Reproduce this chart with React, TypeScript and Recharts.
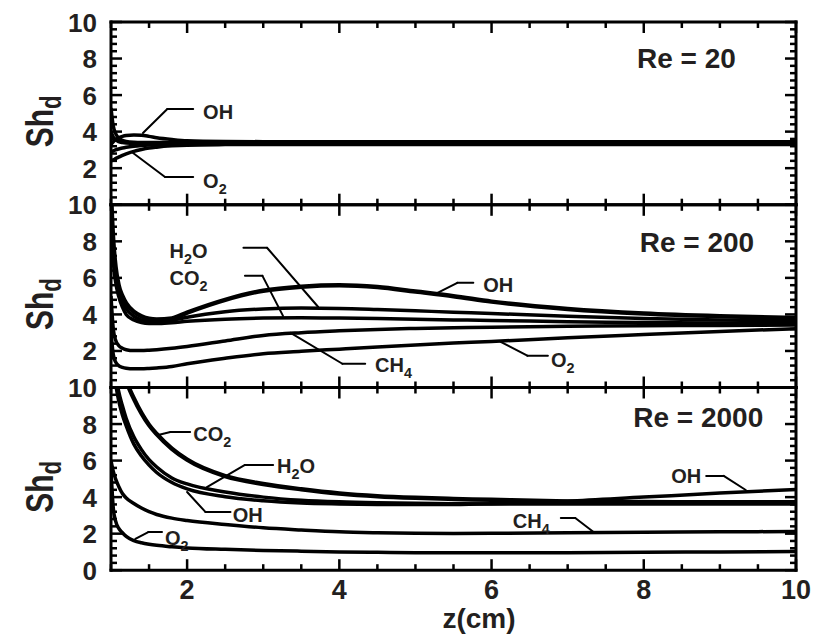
import React from 'react';
import { LineChart, Line, XAxis, YAxis, ReferenceLine, ReferenceDot } from 'recharts';

const FONT = '"Liberation Sans", Arial, Helvetica, sans-serif';
const INK = '#231f20';

// axial position (cm), shared by every panel
const zGrid = [1.0, 1.03, 1.06, 1.1, 1.15, 1.2, 1.3, 1.4, 1.5, 1.6, 1.8, 2.0, 2.5, 3, 3.5, 4, 4.5, 5, 5.5, 6, 7, 8, 9, 10];

// Re = 20
const oh20 = [3.3, 3.45, 3.56, 3.66, 3.74, 3.79, 3.82, 3.8, 3.74, 3.67, 3.57, 3.5, 3.46, 3.45, 3.45, 3.45, 3.45, 3.45, 3.45, 3.45, 3.45, 3.45, 3.45, 3.45];
const h2o20 = [5.3, 4.3, 3.9, 3.65, 3.52, 3.46, 3.42, 3.41, 3.41, 3.41, 3.41, 3.41, 3.41, 3.41, 3.41, 3.41, 3.41, 3.41, 3.41, 3.41, 3.41, 3.41, 3.41, 3.41];
const co2_20 = [4.0, 3.7, 3.55, 3.45, 3.4, 3.38, 3.37, 3.37, 3.37, 3.37, 3.37, 3.37, 3.37, 3.37, 3.37, 3.37, 3.37, 3.37, 3.37, 3.37, 3.37, 3.37, 3.37, 3.37];
const ch4_20 = [2.9, 2.95, 3.0, 3.05, 3.1, 3.14, 3.2, 3.24, 3.27, 3.29, 3.31, 3.32, 3.33, 3.33, 3.33, 3.33, 3.33, 3.33, 3.33, 3.33, 3.33, 3.33, 3.33, 3.33];
const o2_20 = [2.4, 2.45, 2.52, 2.6, 2.7, 2.78, 2.92, 3.02, 3.1, 3.15, 3.22, 3.26, 3.29, 3.3, 3.3, 3.3, 3.3, 3.3, 3.3, 3.3, 3.3, 3.3, 3.3, 3.3];

// Re = 200
const oh200 = [10.5, 8.0, 6.6, 5.6, 5.0, 4.6, 4.15, 3.9, 3.76, 3.72, 3.78, 4.1, 4.8, 5.3, 5.52, 5.6, 5.5, 5.25, 5.0, 4.7, 4.3, 4.05, 3.9, 3.8];
const h2o200 = [10.5, 7.5, 6.2, 5.3, 4.7, 4.3, 3.9, 3.7, 3.62, 3.6, 3.68, 3.85, 4.15, 4.3, 4.35, 4.33, 4.27, 4.2, 4.12, 4.05, 3.9, 3.78, 3.7, 3.65];
const co2_200 = [10.5, 7.0, 5.8, 5.0, 4.4, 4.0, 3.7, 3.55, 3.5, 3.5, 3.55, 3.62, 3.74, 3.8, 3.82, 3.8, 3.77, 3.74, 3.7, 3.67, 3.6, 3.56, 3.53, 3.5];
const ch4_200 = [5.0, 3.2, 2.6, 2.3, 2.15, 2.07, 2.02, 2.02, 2.04, 2.07, 2.15, 2.25, 2.55, 2.85, 3.0, 3.1, 3.18, 3.23, 3.27, 3.3, 3.35, 3.38, 3.4, 3.42];
const o2_200 = [3.0, 1.8, 1.4, 1.2, 1.1, 1.05, 1.02, 1.02, 1.04, 1.07, 1.15, 1.3, 1.6, 1.85, 1.98, 2.1, 2.22, 2.33, 2.43, 2.52, 2.72, 2.9, 3.07, 3.22];

// Re = 2000
const oh2000 = [12, 11, 10.2, 9.3, 8.5, 7.9, 6.9, 6.25, 5.75, 5.35, 4.8, 4.45, 4.02, 3.8, 3.68, 3.63, 3.6, 3.59, 3.6, 3.64, 3.78, 4.0, 4.22, 4.42];
const h2o2000 = [12, 11.5, 10.8, 9.8, 9.0, 8.3, 7.3, 6.6, 6.05, 5.65, 5.05, 4.72, 4.28, 4.0, 3.83, 3.74, 3.69, 3.66, 3.64, 3.63, 3.62, 3.62, 3.62, 3.62];
const co2_2000 = [12, 12, 12, 11.8, 11.2, 10.4, 9.4, 8.6, 7.95, 7.45, 6.65, 6.05, 5.15, 4.72, 4.43, 4.2, 4.05, 3.96, 3.9, 3.85, 3.76, 3.73, 3.72, 3.72];
const ch4_2000 = [6.0, 5.4, 5.0, 4.6, 4.2, 3.95, 3.65, 3.4, 3.2, 3.05, 2.85, 2.72, 2.5, 2.32, 2.2, 2.1, 2.05, 2.02, 2.01, 2.02, 2.05, 2.08, 2.1, 2.12];
const o2_2000 = [5.5, 3.4, 2.7, 2.3, 2.05, 1.85, 1.62, 1.5, 1.42, 1.36, 1.28, 1.22, 1.14, 1.08, 1.04, 1.0, 0.98, 0.96, 0.95, 0.95, 0.96, 0.98, 1.0, 1.03];

const xTicks = [1, 1.5, 2, 2.5, 3, 3.5, 4, 4.5, 5, 5.5, 6, 6.5, 7, 7.5, 8, 8.5, 9, 9.5, 10];
const xLabels = [2, 4, 6, 8, 10];
const yTicks = [0, 0.4, 0.8, 1.2, 1.6, 2, 2.4, 2.8, 3.2, 3.6, 4, 4.4, 4.8, 5.2, 5.6, 6, 6.4, 6.8, 7.2, 7.6, 8, 8.4, 8.8, 9.2, 9.6, 10];
const yLabelsUpper = [2, 4, 6, 8, 10];
const yLabelsLower = [0, 2, 4, 6, 8, 10];

const species = ['OH', 'H2O', 'CO2', 'CH4', 'O2'];

type Note = { label: string; at: [number, number]; leader: [number, number][] };

const panels = [
  {
    re: 'Re = 20', reAt: [9.21, 8.03], top: 22,
    values: [oh20, h2o20, co2_20, ch4_20, o2_20], widths: [3.5, 3.5, 3.5, 3.5, 3.5],
    yLabels: yLabelsUpper,
    notes: [
      { label: 'OH', at: [2.21, 5.05], leader: [[2.08, 5.24], [1.74, 5.24], [1.42, 3.92]] },
      { label: 'O2', at: [2.21, 1.27], leader: [[2.08, 1.52], [1.71, 1.52], [1.29, 2.83]] },
    ] as Note[],
  },
  {
    re: 'Re = 200', reAt: [9.45, 7.95], top: 204.8,
    values: [oh200, h2o200, co2_200, ch4_200, o2_200], widths: [4.5, 3.5, 3.5, 3.5, 3.5],
    yLabels: yLabelsUpper,
    notes: [
      { label: 'H2O', at: [1.77, 7.48], leader: [[2.74, 7.65], [3.05, 7.65], [3.72, 4.42]] },
      { label: 'CO2', at: [1.77, 5.98], leader: [[2.76, 6.11], [2.99, 6.11], [3.26, 3.92]] },
      { label: 'OH', at: [5.89, 5.59], leader: [[5.76, 5.73], [5.55, 5.73], [5.29, 5.18]] },
      { label: 'CH4', at: [4.47, 1.24], leader: [[4.34, 1.3], [4.04, 1.3], [3.36, 2.99]] },
      { label: 'O2', at: [6.78, 1.52], leader: [[6.74, 1.74], [6.47, 1.74], [6.12, 2.5]] },
    ] as Note[],
  },
  {
    re: 'Re = 2000', reAt: [9.57, 8.38], top: 387.5,
    values: [oh2000, h2o2000, co2_2000, ch4_2000, o2_2000], widths: [3.5, 3.5, 4.5, 3.5, 3.5],
    yLabels: yLabelsLower,
    notes: [
      { label: 'CO2', at: [2.08, 7.43], leader: [[2.04, 7.56], [1.78, 7.56], [1.62, 7.4]] },
      { label: 'H2O', at: [3.18, 5.73], leader: [[3.13, 5.76], [2.76, 5.76], [2.26, 4.55]] },
      { label: 'OH', at: [2.6, 3.02], leader: [[2.57, 3.19], [2.24, 3.19], [2.0, 4.28]] },
      { label: 'O2', at: [1.71, 1.74], leader: [[1.67, 2.09], [1.49, 2.09], [1.32, 1.71]] },
      { label: 'OH', at: [8.36, 5.13], leader: [[8.82, 5.16], [9.05, 5.16], [9.34, 4.39]] },
      { label: 'CH4', at: [6.28, 2.72], leader: [[6.91, 2.86], [7.1, 2.86], [7.34, 2.09]] },
    ] as Note[],
  },
];

const PANEL_H = 182.7;
const W = 821;
const H = 637;
const LEFT = 111;
const RIGHT = 25;
const AX = 1; // axis band size (recharts skips zero-sized axes)

// formula with subscript digits
function Chem({ label, size }: { label: string; size: number }) {
  const parts: React.ReactNode[] = [];
  let down = false;
  label.split('').forEach((ch, i) => {
    const isDigit = /[0-9]/.test(ch);
    if (isDigit && !down) {
      parts.push(<tspan key={i} dy={size * 0.3} fontSize={size * 0.72}>{ch}</tspan>);
      down = true;
    } else if (!isDigit && down) {
      parts.push(<tspan key={i} dy={-size * 0.3} fontSize={size}>{ch}</tspan>);
      down = false;
    } else {
      parts.push(<tspan key={i} fontSize={isDigit ? size * 0.72 : size}>{ch}</tspan>);
    }
  });
  return <>{parts}</>;
}

const isMajor = (v: number) => Math.abs(v / 2 - Math.round(v / 2)) < 1e-6;
const hasLabel = (list: number[], v: number) => list.some((l) => Math.abs(l - v) < 1e-6);

function makeTick(side: 'top' | 'bottom' | 'left' | 'right', labels: number[]) {
  return (p: any) => {
    const v = p.payload.value;
    const len = isMajor(v) ? 11 : 6;
    const { x, y } = p;
    let x2 = x;
    let y2 = y;
    if (side === 'bottom') y2 = y - len;
    if (side === 'top') y2 = y + len;
    if (side === 'left') x2 = x + len;
    if (side === 'right') x2 = x - len;
    let text = null;
    if (side === 'bottom' && hasLabel(labels, v)) {
      text = (
        <text x={x} y={y + 29} textAnchor="middle" fontSize={27} fontWeight="bold" fontFamily={FONT} fill={INK}>
          {v}
        </text>
      );
    }
    if (side === 'left' && hasLabel(labels, v)) {
      text = (
        <text x={x - 14} y={y + 9.5} textAnchor="end" fontSize={26} fontWeight="bold" fontFamily={FONT} fill={INK}>
          {v}
        </text>
      );
    }
    return (
      <g>
        <line x1={x} y1={y} x2={x2} y2={y2} stroke="#000" strokeWidth={2.5} />
        {text}
      </g>
    );
  };
}

const axisLine = { stroke: '#000', strokeWidth: 3, strokeLinecap: 'square' as const };

function Panel({ idx }: { idx: number }) {
  const cfg = panels[idx];
  const data = zGrid.map((z, i) => {
    const row: Record<string, number> = { z };
    species.forEach((s, k) => {
      row[s] = cfg.values[k][i];
    });
    return row;
  });
  const bottomMargin = H - cfg.top - PANEL_H;
  const last = idx === panels.length - 1;
  return (
    <div style={{ position: 'absolute', left: 0, top: 0 }}>
      <LineChart
        width={W} height={H} data={data}
        margin={{ top: cfg.top - AX, bottom: bottomMargin - AX, left: LEFT - AX, right: RIGHT - AX }}
      >
        <XAxis
          xAxisId="b" dataKey="z" type="number" domain={[1, 10]} allowDataOverflow ticks={xTicks} interval={0}
          height={AX} tickSize={0} tickMargin={0} tickLine={false} axisLine={axisLine}
          tick={makeTick('bottom', last ? xLabels : [])}
          label={last ? {
            content: () => (
              <text x={479} y={628} textAnchor="middle" fontSize={28} fontWeight="bold" fontFamily={FONT} fill={INK}>z(cm)</text>
            ),
          } : undefined}
        />
        <XAxis
          xAxisId="t" orientation="top" dataKey="z" type="number" domain={[1, 10]} allowDataOverflow ticks={xTicks} interval={0}
          height={AX} tickSize={0} tickMargin={0} tickLine={false} axisLine={axisLine}
          tick={makeTick('top', [])}
        />
        <YAxis
          yAxisId="l" type="number" domain={[0, 10]} allowDataOverflow ticks={yTicks} interval={0}
          width={AX} tickSize={0} tickMargin={0} tickLine={false} axisLine={axisLine}
          tick={makeTick('left', cfg.yLabels)}
          label={{
            content: () => {
              const cy = cfg.top + PANEL_H / 2 + 8;
              return (
                <text transform={`translate(53, ${cy}) rotate(-90) scale(1, 1.3)`} textAnchor="middle" fontSize={30} fontWeight="bold" fontFamily={FONT} fill={INK}>
                  Sh<tspan dy={6} fontSize={22}>d</tspan>
                </text>
              );
            },
          }}
        />
        <YAxis
          yAxisId="r" orientation="right" type="number" domain={[0, 10]} allowDataOverflow ticks={yTicks} interval={0}
          width={AX} tickSize={0} tickMargin={0} tickLine={false} axisLine={axisLine}
          tick={makeTick('right', [])}
        />
        {species.map((s, k) => (
          <Line
            key={s} xAxisId="b" yAxisId="l" dataKey={s} type="monotone" stroke="#000"
            strokeWidth={cfg.widths[k]} dot={false} activeDot={false} isAnimationActive={false}
          />
        ))}
        {cfg.notes.map((n, ni) =>
          n.leader.slice(1).map((pt, pi) => (
            <ReferenceLine
              key={`l${ni}-${pi}`} xAxisId="b" yAxisId="l" ifOverflow="visible"
              segment={[{ x: n.leader[pi][0], y: n.leader[pi][1] }, { x: pt[0], y: pt[1] }]}
              stroke="#000" strokeWidth={2} strokeLinecap="round"
            />
          ))
        )}
        {cfg.notes.map((n, ni) => (
          <ReferenceDot
            key={`t${ni}`} xAxisId="b" yAxisId="l" x={n.at[0]} y={n.at[1]} r={0} ifOverflow="visible"
            shape={(p: any) => (
              <text x={p.cx} y={p.cy + 7} textAnchor="start" fontWeight="bold" fontFamily={FONT} fill={INK} fontSize={20}>
                <Chem label={n.label} size={20} />
              </text>
            )}
          />
        ))}
        <ReferenceDot
          xAxisId="b" yAxisId="l" x={cfg.reAt[0]} y={cfg.reAt[1]} r={0} ifOverflow="visible"
          shape={(p: any) => (
            <text x={p.cx} y={p.cy + 10} textAnchor="end" fontSize={28} fontWeight="bold" fontFamily={FONT} fill={INK}>
              {cfg.re}
            </text>
          )}
        />
      </LineChart>
    </div>
  );
}

export default function App() {
  return (
    <div style={{ position: 'absolute', left: 0, top: 0, width: W, height: H, background: '#fff' }}>
      {panels.map((_, i) => (
        <Panel key={i} idx={i} />
      ))}
    </div>
  );
}
